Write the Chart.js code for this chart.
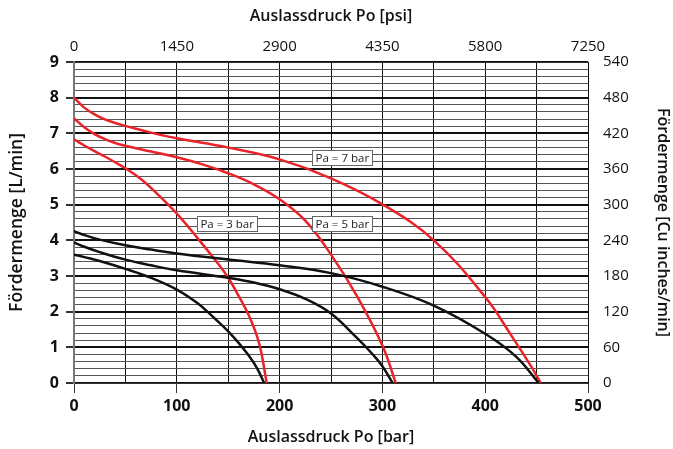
<!DOCTYPE html>
<html>
<head>
<meta charset="utf-8">
<script src="https://cdn.jsdelivr.net/npm/chart.js@4.4.1/dist/chart.umd.min.js"></script>
<style>
  html, body { margin: 0; padding: 0; background: #fff; }
</style>
</head>
<body>
<canvas id="pumpChart" width="673" height="449"></canvas>
<script>
// Auslassdruck [bar] / Fördermenge [L/min]
const red3Bar  = [0, 10, 20, 30, 40, 50, 65, 80, 100, 120, 140, 150, 160, 170, 180, 187.5];
const red3Flow = [6.83, 6.66, 6.5, 6.35, 6.19, 6.02, 5.72, 5.33, 4.75, 4.07, 3.35, 2.95, 2.45, 1.9, 1.12, 0];

const red5Bar  = [0, 10, 20, 30, 40, 50, 75, 100, 125, 150, 175, 200, 225, 250, 275, 300, 313];
const red5Flow = [7.42, 7.17, 6.98, 6.84, 6.73, 6.65, 6.49, 6.33, 6.13, 5.88, 5.57, 5.15, 4.55, 3.6, 2.45, 1.05, 0];

const red7Bar  = [0, 10, 20, 30, 40, 50, 75, 100, 150, 200, 250, 300, 350, 400, 425, 445, 454];
const red7Flow = [8.0, 7.72, 7.53, 7.39, 7.29, 7.21, 7.02, 6.86, 6.6, 6.27, 5.74, 5.01, 4.0, 2.41, 1.35, 0.45, 0];

const black3Bar  = [0, 10, 25, 50, 75, 100, 120, 135, 150, 160, 170, 178, 185];
const black3Flow = [3.6, 3.53, 3.42, 3.2, 2.95, 2.62, 2.24, 1.86, 1.45, 1.13, 0.77, 0.42, 0];

const black5Bar  = [0, 10, 25, 50, 75, 100, 150, 175, 200, 225, 250, 275, 290, 300, 310];
const black5Flow = [3.94, 3.82, 3.67, 3.46, 3.3, 3.16, 2.95, 2.82, 2.63, 2.36, 1.95, 1.27, 0.82, 0.47, 0];

const black7Bar  = [0, 10, 25, 50, 75, 100, 150, 200, 250, 300, 350, 400, 430, 452];
const black7Flow = [4.26, 4.15, 4.02, 3.86, 3.74, 3.63, 3.46, 3.3, 3.08, 2.7, 2.17, 1.38, 0.74, 0];

// curve labels
const labelTexts = ['Pa = 3 bar', 'Pa = 5 bar', 'Pa = 7 bar'];
const labelBar   = [149, 261, 261];
const labelFlow  = [4.47, 4.47, 6.32];

const FONT = "'Open Sans', 'DejaVu Sans', sans-serif";

function toPoints(xs, ys) {
    return xs.map((x, i) => ({ x: x, y: ys[i] }));
}

function curve(xs, ys, color) {
    return {
        data: toPoints(xs, ys),
        borderColor: color,
        borderWidth: 2.5,
        pointRadius: 0,
        fill: false,
        tension: 0.4,
        xAxisID: 'x',
        yAxisID: 'y'
    };
}

function isWhole(v) {
    return Math.abs(v - Math.round(v)) < 1e-6;
}

// little boxed labels on the red curves
const curveLabels = {
    id: 'curveLabels',
    afterDatasetsDraw(chart) {
        const ctx = chart.ctx;
        const xs = chart.scales.x;
        const ys = chart.scales.y;
        ctx.save();
        ctx.font = '11.5px ' + FONT;
        ctx.textAlign = 'center';
        ctx.textBaseline = 'middle';
        labelTexts.forEach((txt, i) => {
            const cx = xs.getPixelForValue(labelBar[i]);
            const cy = ys.getPixelForValue(labelFlow[i]);
            const w = Math.round(ctx.measureText(txt).width + 6);
            const h = 15;
            const left = Math.round(cx - w / 2) + 0.5;
            const top = Math.round(cy - h / 2) + 0.5;
            ctx.fillStyle = '#fff';
            ctx.fillRect(left, top, w, h);
            ctx.strokeStyle = '#666';
            ctx.lineWidth = 1;
            ctx.strokeRect(left, top, w, h);
            ctx.fillStyle = '#222';
            ctx.fillText(txt, cx, cy + 1);
        });
        ctx.restore();
    }
};

const ctx = document.getElementById('pumpChart').getContext('2d');

new Chart(ctx, {
    type: 'line',
    data: {
        datasets: [
            curve(black3Bar, black3Flow, '#111'),
            curve(black5Bar, black5Flow, '#111'),
            curve(black7Bar, black7Flow, '#111'),
            curve(red3Bar, red3Flow, '#e8232a'),
            curve(red5Bar, red5Flow, '#e8232a'),
            curve(red7Bar, red7Flow, '#e8232a')
        ]
    },
    options: {
        responsive: false,
        animation: false,
        layout: { padding: 0 },
        plugins: {
            legend: { display: false },
            tooltip: { enabled: false }
        },
        scales: {
            x: {
                type: 'linear',
                position: 'bottom',
                min: 0,
                max: 500,
                afterFit: function(scale) { scale.height = 66; },
                grid: {
                    color: '#111',
                    lineWidth: 1,
                    tickLength: 10,
                    tickColor: function(c) {
                        return c.tick && c.tick.value % 100 === 0 ? '#333' : 'rgba(0,0,0,0)';
                    }
                },
                border: { color: '#333', width: 1 },
                ticks: {
                    stepSize: 50,
                    autoSkip: false,
                    maxRotation: 0,
                    padding: 4,
                    color: '#111',
                    font: { family: FONT, size: 16, weight: 'bold' },
                    callback: function(v) { return v % 100 === 0 ? String(v) : ''; }
                },
                title: {
                    display: true,
                    text: 'Auslassdruck Po [bar]',
                    color: '#111',
                    font: { family: FONT, size: 16, weight: '600' },
                    padding: { top: 0, bottom: 2 }
                }
            },
            x2: {
                type: 'linear',
                position: 'top',
                min: 0,
                max: 7250,
                afterFit: function(scale) { scale.height = 62; },
                grid: { display: false, drawTicks: false },
                border: { color: '#333', width: 1 },
                ticks: {
                    stepSize: 1450,
                    autoSkip: false,
                    maxRotation: 0,
                    padding: 6,
                    color: '#111',
                    font: { family: FONT, size: 15 },
                    callback: function(v) { return String(v); }
                },
                title: {
                    display: true,
                    text: 'Auslassdruck Po [psi]',
                    color: '#111',
                    font: { family: FONT, size: 16, weight: '600' },
                    padding: { top: 7, bottom: 0 }
                }
            },
            y: {
                type: 'linear',
                position: 'left',
                min: 0,
                max: 9,
                afterFit: function(scale) { scale.width = 74; },
                grid: {
                    color: function(c) {
                        return c.tick && isWhole(c.tick.value) ? '#111' : '#555';
                    },
                    lineWidth: function(c) {
                        return c.tick && isWhole(c.tick.value) ? 2 : 1;
                    },
                    tickLength: 8,
                    tickColor: function(c) {
                        return c.tick && isWhole(c.tick.value) ? '#333' : 'rgba(0,0,0,0)';
                    }
                },
                border: { color: '#777', width: 2 },
                ticks: {
                    stepSize: 0.2,
                    autoSkip: false,
                    padding: 7,
                    color: '#111',
                    font: { family: FONT, size: 16, weight: 'bold' },
                    callback: function(v) { return isWhole(v) ? String(Math.round(v)) : ''; }
                },
                title: {
                    display: true,
                    text: 'Fördermenge [L/min]',
                    color: '#111',
                    font: { family: FONT, size: 17.5, weight: '600' },
                    padding: { top: 7, bottom: 0 }
                }
            },
            y2: {
                type: 'linear',
                position: 'right',
                min: 0,
                max: 540,
                afterFit: function(scale) { scale.width = 85; },
                grid: { display: false, drawTicks: false },
                border: { color: '#111', width: 1 },
                ticks: {
                    stepSize: 60,
                    autoSkip: false,
                    padding: 15,
                    color: '#111',
                    font: { family: FONT, size: 15 }
                },
                title: {
                    display: true,
                    text: 'Fördermenge [Cu inches/min]',
                    color: '#111',
                    font: { family: FONT, size: 16, weight: '600' },
                    padding: { top: 1, bottom: 0 }
                }
            }
        }
    },
    plugins: [curveLabels]
});
</script>
</body>
</html>
